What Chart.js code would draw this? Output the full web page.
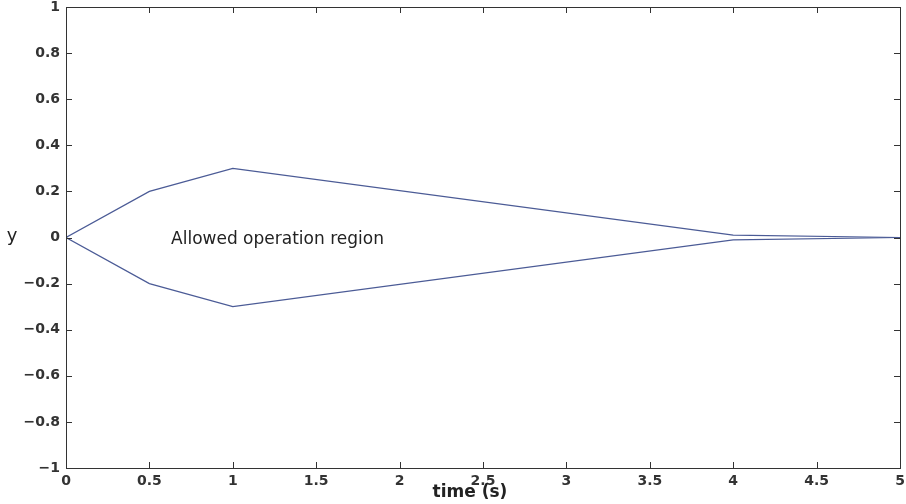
<!DOCTYPE html>
<html>
<head>
<meta charset="utf-8">
<script src="https://cdn.jsdelivr.net/npm/chart.js@4.4.1/dist/chart.umd.min.js"></script>
<style>
  html, body { margin: 0; padding: 0; background: #fff; }
  #wrap { width: 906px; height: 504px; }
</style>
</head>
<body>
<div id="wrap"><canvas id="myChart" width="906" height="504"></canvas></div>
<script>
'use strict';

// Envelope corners (time in seconds, bound on y)
var times = [0, 0.5, 1, 4, 5];
var upperBound = [0, 0.2, 0.3, 0.01, 0];
var lowerBound = [0, -0.2, -0.3, -0.01, 0];

var xTicks = [0, 0.5, 1, 1.5, 2, 2.5, 3, 3.5, 4, 4.5, 5];
var yTicks = [-1, -0.8, -0.6, -0.4, -0.2, 0, 0.2, 0.4, 0.6, 0.8, 1];

var lineColor = '#4b5b96';
var axisColor = '#333';
var tickFont = { family: 'DejaVu Sans, sans-serif', size: 14, weight: 'bold' };

function toPoints(xs, ys) {
   return xs.map(function (x, i) { return { x: x, y: ys[i] }; });
}

// MATLAB style tick text: long minus sign
function fmt(v) {
   var s = String(Number(v.toFixed(1)));
   return s.replace('-', '\u2212');
}

// Box around the plot area, inward ticks on all four sides, and free text
var boxPlugin = {
   id: 'boxPlugin',
   afterDraw: function (chart) {
      var ctx = chart.ctx;
      var a = chart.chartArea;
      var xs = chart.scales.x, ys = chart.scales.y;
      var len = 6;
      ctx.save();
      ctx.strokeStyle = axisColor;
      ctx.lineWidth = 1;
      ctx.strokeRect(Math.round(a.left) + 0.5, Math.round(a.top) + 0.5,
                     Math.round(a.right - a.left), Math.round(a.bottom - a.top));
      ctx.beginPath();
      xTicks.forEach(function (v) {
         var px = Math.round(xs.getPixelForValue(v)) + 0.5;
         ctx.moveTo(px, a.bottom); ctx.lineTo(px, a.bottom - len);
         ctx.moveTo(px, a.top); ctx.lineTo(px, a.top + len);
      });
      yTicks.forEach(function (v) {
         var py = Math.round(ys.getPixelForValue(v)) + 0.5;
         ctx.moveTo(a.left, py); ctx.lineTo(a.left + len, py);
         ctx.moveTo(a.right, py); ctx.lineTo(a.right - len, py);
      });
      ctx.stroke();

      ctx.fillStyle = '#222';
      ctx.textBaseline = 'middle';
      ctx.font = '17px DejaVu Sans, sans-serif';
      ctx.textAlign = 'left';
      ctx.fillText('Allowed operation region', xs.getPixelForValue(0.63), ys.getPixelForValue(-0.01));

      ctx.font = 'bold 17px DejaVu Sans, sans-serif';
      ctx.textAlign = 'center';
      ctx.fillText('time (s)', 470, 493);

      ctx.font = '18px DejaVu Sans, sans-serif';
      ctx.fillText('y', 12, ys.getPixelForValue(0) - 1);
      ctx.restore();
   }
};

var ctx = document.getElementById('myChart');
var myChart = new Chart(ctx, {
   type: 'line',
   data: {
      datasets: [{
         data: toPoints(times, upperBound),
         borderColor: lineColor,
         borderWidth: 1.2,
         pointRadius: 0,
         tension: 0
      }, {
         data: toPoints(times, lowerBound),
         borderColor: lineColor,
         borderWidth: 1.2,
         pointRadius: 0,
         tension: 0
      }]
   },
   options: {
      responsive: false,
      animation: false,
      layout: { padding: 0 },
      plugins: { legend: { display: false }, tooltip: { enabled: false } },
      scales: {
         x: {
            type: 'linear',
            min: 0, max: 5,
            afterBuildTicks: function (scale) {
               scale.ticks = xTicks.map(function (v) { return { value: v }; });
            },
            afterFit: function (scale) {
               scale.height = 36;
               scale.paddingLeft = 0;
               scale.paddingRight = 6;
            },
            grid: { display: false, drawTicks: false },
            border: { display: false },
            ticks: {
               color: axisColor,
               font: tickFont,
               padding: 5,
               maxRotation: 0,
               autoSkip: false,
               callback: function (v) { return fmt(v); }
            }
         },
         y: {
            type: 'linear',
            min: -1, max: 1,
            afterBuildTicks: function (scale) {
               scale.ticks = yTicks.map(function (v) { return { value: v }; });
            },
            afterFit: function (scale) {
               scale.width = 66;
               scale.paddingTop = 7;
               scale.paddingBottom = 0;
            },
            grid: { display: false, drawTicks: false },
            border: { display: false },
            ticks: {
               color: axisColor,
               font: tickFont,
               padding: 6,
               autoSkip: false,
               callback: function (v) { return fmt(v); }
            }
         }
      }
   },
   plugins: [boxPlugin]
});
</script>
</body>
</html>
